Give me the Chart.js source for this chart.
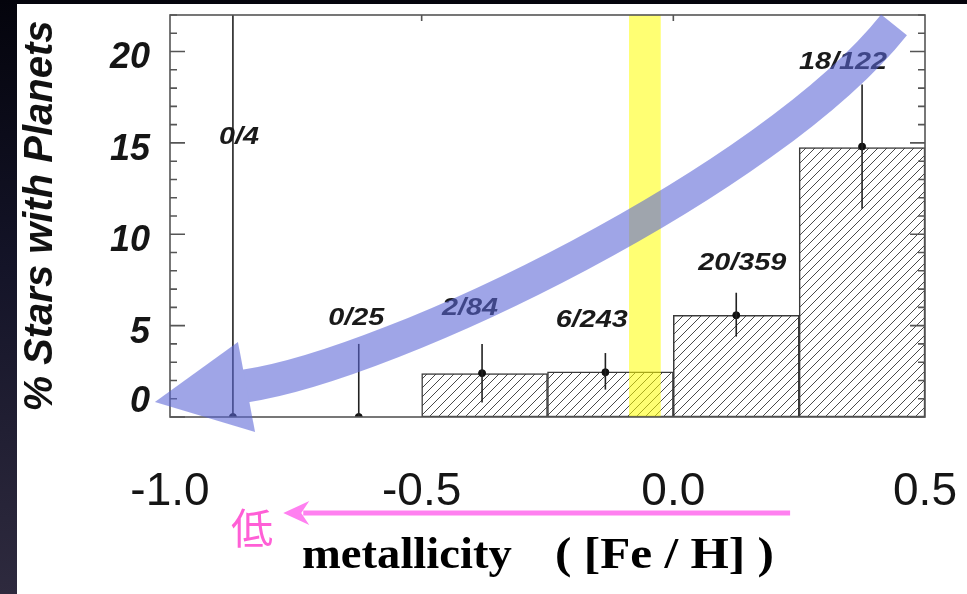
<!DOCTYPE html>
<html>
<head>
<meta charset="utf-8">
<script src="https://cdn.jsdelivr.net/npm/chart.js@4.4.0/dist/chart.umd.min.js"></script>
<style>
  html, body { margin: 0; padding: 0; }
  body { width: 967px; height: 594px; overflow: hidden;
         background: linear-gradient(to bottom, #04040c 0%, #141428 45%, #2e2a3e 100%); }
  #wrap { position: absolute; left: 0; top: 0; width: 967px; height: 594px; }
</style>
</head>
<body>
<div id="wrap"><canvas id="myChart" width="967" height="594"></canvas></div>
<script>
var ctx = document.getElementById('myChart');

// histogram: bin centres (0.25 dex bins) and % of stars with planets
var binCenters = [-0.875, -0.625, -0.375, -0.125, 0.125, 0.375];
var pctValues = [0, 0, 2.38, 2.47, 5.57, 14.75];
var countLabels = ['0/4', '0/25', '2/84', '6/243', '20/359', '18/122'];

// measured points + error bars
var pointX = [-0.875, -0.625, -0.38, -0.135, 0.125, 0.375];
var pointY = [0, 0, 2.4, 2.45, 5.57, 14.8];
var errLow = [0, 0, 0.8, 1.5, 4.4, 11.4];
var errHigh = [25, 4.0, 4.0, 3.5, 6.8, 18.2];

// where the count labels sit (data units)
var labelX = [-0.863, -0.630, -0.404, -0.162, 0.137, 0.337];
var labelY = [15.3, 5.4, 5.95, 5.3, 8.4, 19.4];

var xTicks = [-1.0, -0.5, 0.0, 0.5];
var yTicks = [0, 5, 10, 15, 20];

// yellow band (sun) and the big blue trend arrow, in data units
var sunBand = [-0.088, -0.025];
var trendCurve = [[0.4385, 21.46], [0.192, 12.92], [-0.555, 2.93], [-0.849, 1.70]];
var trendHead = [[-1.030, 0.82], [-0.865, 4.1], [-0.831, -0.82]];
// pink "low" arrow under the axis (from, to)
var lowArrow = [0.232, -0.775];

function makeHatch() {
    var c = document.createElement('canvas');
    c.width = 9; c.height = 9;
    var g = c.getContext('2d');
    g.fillStyle = '#fff';
    g.fillRect(0, 0, 9, 9);
    g.strokeStyle = '#4a4a4a';
    g.lineWidth = 1;
    g.beginPath();
    g.moveTo(-1, 10); g.lineTo(10, -1);
    g.moveTo(-1, 1); g.lineTo(1, -1);
    g.moveTo(8, 10); g.lineTo(10, 8);
    g.stroke();
    return g.createPattern(c, 'repeat');
}

function stretchText(g, txt, x, y, font, sx, color, align, base) {
    g.save();
    g.translate(x, y);
    g.scale(sx, 1);
    g.font = font;
    g.fillStyle = color;
    g.textAlign = align || 'center';
    g.textBaseline = base || 'middle';
    g.fillText(txt, 0, 0);
    g.restore();
}

var overlay = {
    id: 'overlay',
    beforeDraw: function(chart) {
        var g = chart.ctx;
        g.save();
        g.fillStyle = '#ffffff';
        g.fillRect(17, 4, chart.width - 17, chart.height - 4);
        g.restore();
    },
    afterDraw: function(chart) {
        var g = chart.ctx;
        var a = chart.chartArea;
        var xs = chart.scales.x, ys = chart.scales.y;

        // error bars
        g.save();
        g.beginPath();
        g.rect(a.left, a.top, a.right - a.left, a.bottom - a.top);
        g.clip();
        g.strokeStyle = '#222';
        g.lineWidth = 1.6;
        for (var i = 0; i < pointX.length; i++) {
            var px = xs.getPixelForValue(pointX[i]);
            g.beginPath();
            g.moveTo(px, ys.getPixelForValue(errLow[i]));
            g.lineTo(px, ys.getPixelForValue(errHigh[i]));
            g.stroke();
        }
        // yellow band
        var b0 = xs.getPixelForValue(sunBand[0]), b1 = xs.getPixelForValue(sunBand[1]);
        g.fillStyle = 'rgba(255,255,0,0.55)';
        g.fillRect(b0, a.top, b1 - b0, a.bottom - a.top);
        g.restore();

        // frame + inward ticks
        g.save();
        g.strokeStyle = '#555';
        g.lineWidth = 1.6;
        g.strokeRect(a.left, a.top, a.right - a.left, a.bottom - a.top);
        g.beginPath();
        for (var v = 0; v <= 22; v++) {
            var py = ys.getPixelForValue(v);
            var len = (v % 5 === 0) ? 15 : 7;
            g.moveTo(a.left, py); g.lineTo(a.left + len, py);
            g.moveTo(a.right, py); g.lineTo(a.right - len, py);
        }
        [-0.5, 0.0].forEach(function(t) {
            var tx = xs.getPixelForValue(t);
            g.moveTo(tx, a.top); g.lineTo(tx, a.top + 6);
        });
        g.stroke();
        g.restore();

        // count labels
        for (var j = 0; j < countLabels.length; j++) {
            stretchText(g, countLabels[j], xs.getPixelForValue(labelX[j]), ys.getPixelForValue(labelY[j]),
                'italic bold 24px "Liberation Sans", Arial, sans-serif', 1.2, '#1a1a1a');
        }

        // blue trend arrow, drawn opaque off-screen then blended
        var off = document.createElement('canvas');
        off.width = chart.width; off.height = chart.height;
        var o = off.getContext('2d');
        var P = trendCurve.map(function(p) { return [xs.getPixelForValue(p[0]), ys.getPixelForValue(p[1])]; });
        var H = trendHead.map(function(p) { return [xs.getPixelForValue(p[0]), ys.getPixelForValue(p[1])]; });
        var dx = P[3][0] - P[2][0], dy = P[3][1] - P[2][1], dl = Math.sqrt(dx * dx + dy * dy);
        o.strokeStyle = 'rgb(91,102,215)';
        o.fillStyle = 'rgb(91,102,215)';
        o.lineWidth = 33;
        o.lineCap = 'butt';
        o.beginPath();
        o.moveTo(P[0][0], P[0][1]);
        o.bezierCurveTo(P[1][0], P[1][1], P[2][0], P[2][1], P[3][0], P[3][1]);
        o.lineTo(P[3][0] + dx / dl * 10, P[3][1] + dy / dl * 10);
        o.stroke();
        o.beginPath();
        o.moveTo(H[0][0], H[0][1]);
        o.lineTo(H[1][0], H[1][1]);
        o.lineTo(H[2][0], H[2][1]);
        o.closePath();
        o.fill();
        g.save();
        g.globalAlpha = 0.58;
        g.drawImage(off, 0, 0);
        g.restore();

        // pink arrow + labels under the axis
        var yArrow = a.bottom + 96;
        var xFrom = xs.getPixelForValue(lowArrow[0]), xTo = xs.getPixelForValue(lowArrow[1]);
        g.save();
        g.strokeStyle = '#ff80f0';
        g.fillStyle = '#ff80f0';
        g.lineWidth = 5;
        g.beginPath();
        g.moveTo(xFrom, yArrow); g.lineTo(xTo + 20, yArrow);
        g.stroke();
        g.beginPath();
        g.moveTo(xTo, yArrow);
        g.lineTo(xTo + 26, yArrow - 12);
        g.lineTo(xTo + 18, yArrow);
        g.lineTo(xTo + 26, yArrow + 12);
        g.closePath();
        g.fill();

        g.font = '42px "Noto Sans CJK JP", sans-serif';
        g.fillStyle = '#ff5fd6';
        g.textAlign = 'left';
        g.textBaseline = 'middle';
        g.fillText('低', 231, yArrow + 15);
        g.restore();

        var serif = 'bold 44px "Liberation Serif", "Times New Roman", serif';
        stretchText(g, 'metallicity', 302, yArrow + 55, serif, 1.06, '#000', 'left', 'alphabetic');
        stretchText(g, '( [Fe / H] )', 555, yArrow + 55, serif, 1.12, '#000', 'left', 'alphabetic');
    }
};

var myChart = new Chart(ctx, {
    type: 'bar',
    data: {
        datasets: [{
            type: 'bar',
            data: binCenters.map(function(x, i) { return {x: x, y: pctValues[i]}; }),
            backgroundColor: makeHatch(),
            borderColor: '#3a3a3a',
            borderWidth: 1.5,
            borderSkipped: false,
            barPercentage: 1,
            categoryPercentage: 1,
            order: 2
        }, {
            type: 'scatter',
            data: pointX.map(function(x, i) { return {x: x, y: pointY[i]}; }),
            pointRadius: 3.5,
            backgroundColor: '#111',
            borderColor: '#111',
            order: 1
        }]
    },
    options: {
        responsive: false,
        animation: false,
        layout: { padding: { top: 15, right: 42, left: 0, bottom: 0 } },
        plugins: { legend: { display: false }, tooltip: { enabled: false } },
        scales: {
            x: {
                type: 'linear',
                min: -1.0,
                max: 0.5,
                offset: false,
                grid: { display: false, drawTicks: false, offset: false },
                border: { display: false },
                afterBuildTicks: function(s) { s.ticks = xTicks.map(function(v) { return {value: v}; }); },
                afterFit: function(s) { s.height = 177; s.paddingLeft = 0; s.paddingRight = 0; },
                ticks: {
                    padding: 48,
                    maxRotation: 0,
                    autoSkip: false,
                    color: '#151515',
                    font: { family: '"Liberation Sans", Arial, sans-serif', size: 46 },
                    callback: function(v) { return Number(v).toFixed(1); }
                }
            },
            y: {
                min: 0,
                max: 22,
                grid: { display: false, drawTicks: false },
                border: { display: false },
                afterBuildTicks: function(s) { s.ticks = yTicks.map(function(v) { return {value: v}; }); },
                afterFit: function(s) { s.width = 170; s.paddingTop = 0; s.paddingBottom = 0; },
                ticks: {
                    padding: 20,
                    labelOffset: 7,
                    color: '#151515',
                    font: { family: '"Liberation Sans", Arial, sans-serif', size: 36, weight: 'bold', style: 'italic' },
                    // the 0 label sits a little above its tick in the original
                    callback: function(v) { return v === 0 ? ['0', ''] : String(v); }
                },
                title: {
                    display: true,
                    text: '% Stars with Planets',
                    color: '#111',
                    font: { family: '"Liberation Sans", Arial, sans-serif', size: 40, weight: 'bold', style: 'italic', lineHeight: 1 },
                    padding: { top: 21, bottom: 0 }
                }
            }
        }
    },
    plugins: [overlay]
});
</script>
</body>
</html>
